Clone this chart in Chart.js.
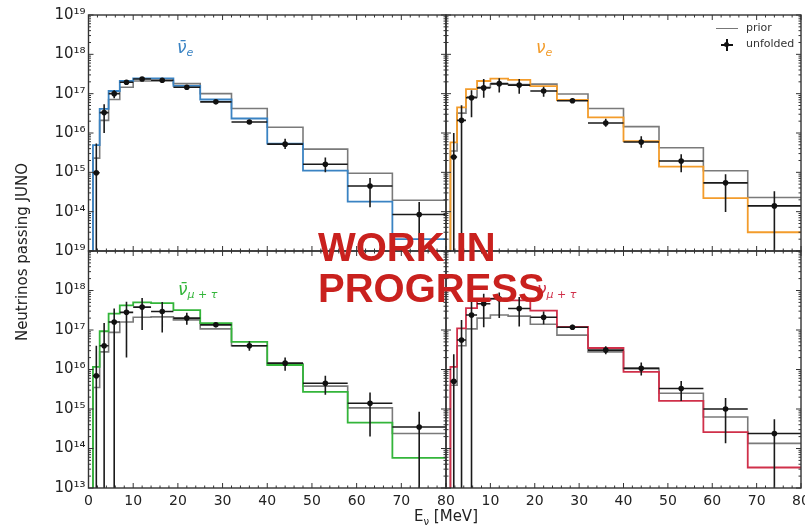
<!DOCTYPE html>
<html>
<head>
<meta charset="utf-8">
<script src="https://cdn.jsdelivr.net/npm/chart.js@4.4.1/dist/chart.umd.min.js"></script>
<style>
  body { margin: 0; background: #fff; }
  #wrap { position: relative; width: 805px; height: 527px; overflow: hidden; font-family: 'DejaVu Sans', sans-serif; color: #222; }
  canvas { position: absolute; left: 0; top: 0; }
  .pl { position: absolute; font: italic 17px 'DejaVu Sans', sans-serif; white-space: nowrap; }
  .pl sub { font-size: 11px; vertical-align: -3px; }
  .txt { position: absolute; white-space: nowrap; }
  #wip { position: absolute; left: 318px; top: 227px; font: bold 40px 'Liberation Sans', Arial, sans-serif; line-height: 41px; color: #c9211e; z-index: 10; }
</style>
</head>
<body>
<div id="wrap">
  <canvas id="c1" width="805" height="527"></canvas>
  <canvas id="c2" width="805" height="527"></canvas>
  <canvas id="c3" width="805" height="527"></canvas>
  <canvas id="c4" width="805" height="527"></canvas>

  <div class="txt" style="left:-88px;top:243px;width:220px;height:18px;line-height:18px;text-align:center;font-size:15px;transform:rotate(-90deg);">Neutrinos passing JUNO</div>
  <div class="txt" style="left:396px;top:507px;width:100px;text-align:center;font-size:15px;">E<sub style="font-size:10px;">ν</sub> [MeV]</div>

  <div class="pl" style="left:177px;top:37px;color:#3a83c3;">ν̄<sub>e</sub></div>
  <div class="pl" style="left:536px;top:37px;color:#f39c2b;">ν<sub>e</sub></div>
  <div class="pl" style="left:178px;top:279px;color:#33b53a;">ν̄<sub>μ + τ</sub></div>
  <div class="pl" style="left:537px;top:279px;color:#d0304a;">ν<sub>μ + τ</sub></div>

  <!-- legend -->
  <div style="position:absolute;left:716px;top:28px;width:22px;border-top:1.5px solid #777;"></div>
  <div class="txt" style="left:746px;top:21px;font-size:11px;color:#333;">prior</div>
  <div style="position:absolute;left:726px;top:39px;width:1.5px;height:12px;background:#111;"></div>
  <div style="position:absolute;left:721px;top:44px;width:12px;height:1.5px;background:#111;"></div>
  <div style="position:absolute;left:724px;top:42px;width:5px;height:5px;border-radius:50%;background:#111;"></div>
  <div class="txt" style="left:746px;top:37px;font-size:11px;color:#333;">unfolded</div>

  <div id="wip">WORK IN<br>PROGRESS</div>
</div>

<script>
// bin edges [MeV] shared by all four spectra
const edges = [1, 2.5, 4.5, 7, 10, 14, 19, 25, 32, 40, 48, 58, 68, 80];
const xTicks = [0, 10, 20, 30, 40, 50, 60, 70, 80];
const yTicks = [1e13, 1e14, 1e15, 1e16, 1e17, 1e18, 1e19];
const FLOOR = 1e12; // below the axis, used where a line runs off the bottom

// anti nu_e
const nuebarTrue  = [4.9e15, 4.1e16, 1.17e17, 2.1e17, 2.45e17, 2.45e17, 1.58e17, 7.1e16, 2.34e16, 5.4e15, 1.1e15, 1.8e14, 2.0e13];
const nuebarPrior = [2.3e15, 2.1e16, 7.1e16, 1.45e17, 2.1e17, 2.1e17, 1.8e17, 1.0e17, 4.2e16, 1.4e16, 3.9e15, 9.5e14, 1.95e14];
const nuebarUnf   = [9.8e14, 3.3e16, 1.0e17, 1.95e17, 2.35e17, 2.2e17, 1.45e17, 6.2e16, 1.9e16, 5.2e15, 1.6e15, 4.5e14, 8.5e13];
const nuebarHi    = [5.4e15, 5.4e16, 1.23e17, 2.2e17, 2.55e17, 2.4e17, 1.58e17, 6.9e16, 2.15e16, 7.1e15, 2.4e15, 7.2e14, 1.75e14];
const nuebarLo    = [1e12, 1.0e16, 7.6e16, 1.75e17, 2.15e17, 2.0e17, 1.3e17, 5.5e16, 1.7e16, 3.9e15, 1.0e15, 1.3e14, 1e12];

// nu_e
const nueTrue  = [5.8e15, 4.5e16, 1.3e17, 2.1e17, 2.4e17, 2.25e17, 1.55e17, 6.9e16, 2.5e16, 6.2e15, 1.4e15, 2.2e14, 3.0e13];
const nuePrior = [3.5e15, 3.2e16, 8.3e16, 1.45e17, 1.75e17, 1.7e17, 1.75e17, 9.8e16, 4.2e16, 1.45e16, 4.2e15, 1.1e15, 2.3e14];
const nueUnf   = [2.45e15, 2.1e16, 7.9e16, 1.4e17, 1.8e17, 1.65e17, 1.17e17, 6.6e16, 1.8e16, 5.9e15, 1.95e15, 5.4e14, 1.4e14];
const nueHi    = [1.0e16, 5.1e16, 1.23e17, 2.35e17, 2.45e17, 2.35e17, 1.5e17, 7.6e16, 2.3e16, 8.3e15, 2.9e15, 8.9e14, 3.3e14];
const nueLo    = [1e12, 1e12, 2.5e16, 7.9e16, 1.07e17, 1.0e17, 8.3e16, 5.8e16, 1.45e16, 4.2e15, 1.0e15, 9.8e13, 1e12];

// anti nu_mu+tau
const numubarTrue  = [1.17e16, 9.3e16, 2.6e17, 4.2e17, 5.0e17, 4.8e17, 3.2e17, 1.5e17, 5.0e16, 1.3e16, 2.7e15, 4.5e14, 5.8e13];
const numubarPrior = [3.5e15, 2.8e16, 8.7e16, 1.6e17, 2.1e17, 2.15e17, 1.8e17, 1.07e17, 4.0e16, 1.4e16, 3.8e15, 1.07e15, 2.4e14];
const numubarUnf   = [6.9e15, 4.0e16, 1.6e17, 2.8e17, 3.8e17, 2.95e17, 2.0e17, 1.35e17, 4.0e16, 1.45e16, 4.5e15, 1.4e15, 3.5e14];
const numubarHi    = [4.0e16, 1.5e17, 3.5e17, 5.2e17, 6.5e17, 5.1e17, 2.75e17, 1.5e17, 5.2e16, 2.0e16, 6.9e15, 2.6e15, 8.5e14];
const numubarLo    = [1e12, 1e12, 1e12, 2.0e16, 1.0e17, 8.7e16, 1.35e17, 1.2e17, 3.0e16, 9.3e15, 2.3e15, 2.0e14, 1e12];

// nu_mu+tau
const numuTrue  = [1.17e16, 1.1e17, 3.6e17, 5.6e17, 6.2e17, 5.6e17, 3.1e17, 1.2e17, 3.5e16, 8.7e15, 1.6e15, 2.6e14, 3.3e13];
const numuPrior = [4.0e15, 4.0e16, 1.07e17, 2.0e17, 2.4e17, 2.25e17, 1.4e17, 7.4e16, 2.8e16, 1.07e16, 2.5e15, 6.3e14, 1.35e14];
const numuUnf   = [5.0e15, 5.6e16, 2.4e17, 4.6e17, 6.2e17, 3.5e17, 2.1e17, 1.17e17, 3.1e16, 1.07e16, 3.3e15, 1.0e15, 2.4e14];
const numuHi    = [2.45e16, 1.8e17, 6.3e17, 8.3e17, 8.9e17, 6.8e17, 2.95e17, 1.35e17, 3.9e16, 1.5e16, 5.1e15, 1.9e15, 5.5e14];
const numuLo    = [1e12, 1e12, 1e12, 1.17e17, 2.0e17, 1.23e17, 1.4e17, 1.02e17, 2.45e16, 7.1e15, 1.6e15, 1.35e14, 1e12];

const SUP = { '0': '⁰', '1': '¹', '2': '²', '3': '³', '4': '⁴', '5': '⁵', '6': '⁶', '7': '⁷', '8': '⁸', '9': '⁹' };
const powLabel = v => '10' + String(Math.round(Math.log10(v))).split('').map(c => SUP[c]).join('');

// histogram outline, starting from below the axis at the first edge
function stepData(vals) {
  const pts = [{ x: edges[0], y: FLOOR }];
  edges.forEach((e, i) => pts.push({ x: e, y: vals[Math.min(i, vals.length - 1)] }));
  return pts;
}

// horizontal (bin width) and vertical (error) bars, split by null gaps
function errData(unf, lo, hi) {
  const pts = [];
  unf.forEach((v, i) => {
    const c = (edges[i] + edges[i + 1]) / 2;
    pts.push({ x: edges[i], y: v }, { x: edges[i + 1], y: v }, { x: edges[i + 1], y: null });
    pts.push({ x: c, y: lo[i] }, { x: c, y: hi[i] }, { x: c, y: null });
  });
  return pts;
}

function centers(unf) {
  return unf.map((v, i) => ({ x: (edges[i] + edges[i + 1]) / 2, y: v }));
}

// frame and inward ticks on all four sides, like the matplotlib original
const frameTicks = {
  id: 'frameTicks',
  afterDatasetsDraw(chart) {
    const { ctx, chartArea: a, scales: { x, y } } = chart;
    ctx.save();
    ctx.strokeStyle = '#333';
    ctx.lineWidth = 1;
    ctx.beginPath();
    for (let v = 0; v <= 80; v += 2) {
      const px = x.getPixelForValue(v);
      const len = v % 10 === 0 ? 5 : 2.5;
      ctx.moveTo(px, a.bottom); ctx.lineTo(px, a.bottom - len);
      ctx.moveTo(px, a.top); ctx.lineTo(px, a.top + len);
    }
    for (let e = 13; e <= 19; e++) {
      for (let m = 1; m < 10; m++) {
        if (e === 19 && m > 1) break;
        const py = y.getPixelForValue(m * Math.pow(10, e));
        const len = m === 1 ? 5 : 2.5;
        ctx.moveTo(a.left, py); ctx.lineTo(a.left + len, py);
        ctx.moveTo(a.right, py); ctx.lineTo(a.right - len, py);
      }
    }
    ctx.stroke();
    ctx.lineWidth = 1.4;
    ctx.strokeRect(a.left, a.top, a.right - a.left, a.bottom - a.top);
    ctx.restore();
  }
};

function makePanel(canvasId, p) {
  const yW = p.showY ? 60 : 0;
  const xH = p.showX ? 30 : 0;
  const ctx = document.getElementById(canvasId).getContext('2d');
  return new Chart(ctx, {
    type: 'line',
    data: {
      datasets: [
        { type: 'scatter', data: centers(p.unf), pointRadius: 2.8, pointBackgroundColor: '#111', pointBorderWidth: 0, showLine: false, order: 0 },
        { data: errData(p.unf, p.lo, p.hi), borderColor: '#1a1a1a', borderWidth: 1.6, pointRadius: 0, spanGaps: false, order: 1 },
        { data: stepData(p.truth), borderColor: p.color, borderWidth: 1.8, pointRadius: 0, stepped: 'before', order: 2 },
        { data: stepData(p.prior), borderColor: '#7a7a7a', borderWidth: 1.6, pointRadius: 0, stepped: 'before', order: 3 },
      ],
    },
    options: {
      responsive: false,
      animation: false,
      events: [],
      layout: { padding: { left: p.area.l - yW, top: p.area.t, right: 805 - p.area.r, bottom: 527 - p.area.b - xH } },
      plugins: { legend: { display: false }, tooltip: { enabled: false } },
      scales: {
        x: {
          type: 'linear', min: 0, max: 80,
          afterBuildTicks: s => { s.ticks = xTicks.map(v => ({ value: v })); },
          ticks: {
            display: p.showX, autoSkip: false, maxRotation: 0, padding: 5, color: '#222',
            font: { family: 'DejaVu Sans', size: 14 },
            callback: v => (p.hideZero && v === 0) ? '' : String(v),
          },
          grid: { display: false, drawTicks: false },
          border: { display: false },
          afterFit: s => { s.height = xH; s.paddingLeft = s.paddingRight = s.paddingTop = s.paddingBottom = 0; },
        },
        y: {
          type: 'logarithmic', min: 1e13, max: 1e19,
          afterBuildTicks: s => { s.ticks = yTicks.map(v => ({ value: v })); },
          ticks: {
            display: p.showY, autoSkip: false, padding: 3, color: '#222',
            font: { family: 'DejaVu Sans', size: 15 },
            callback: v => (p.hideBottom && Math.round(Math.log10(v)) === 13) ? '' : powLabel(v),
          },
          grid: { display: false, drawTicks: false },
          border: { display: false },
          afterFit: s => { s.width = yW; s.paddingLeft = s.paddingRight = s.paddingTop = s.paddingBottom = 0; },
        },
      },
    },
    plugins: [frameTicks],
  });
}

makePanel('c1', { truth: nuebarTrue, prior: nuebarPrior, unf: nuebarUnf, hi: nuebarHi, lo: nuebarLo, color: '#3a83c3',
  area: { l: 88.5, t: 15, r: 446, b: 251 }, showY: true, showX: false, hideBottom: true });
makePanel('c2', { truth: nueTrue, prior: nuePrior, unf: nueUnf, hi: nueHi, lo: nueLo, color: '#f39c2b',
  area: { l: 446, t: 15, r: 802, b: 251 }, showY: false, showX: false });
makePanel('c3', { truth: numubarTrue, prior: numubarPrior, unf: numubarUnf, hi: numubarHi, lo: numubarLo, color: '#33b53a',
  area: { l: 88.5, t: 251, r: 446, b: 488 }, showY: true, showX: true });
makePanel('c4', { truth: numuTrue, prior: numuPrior, unf: numuUnf, hi: numuHi, lo: numuLo, color: '#d0304a',
  area: { l: 446, t: 251, r: 802, b: 488 }, showY: false, showX: true, hideZero: true });
</script>
</body>
</html>
